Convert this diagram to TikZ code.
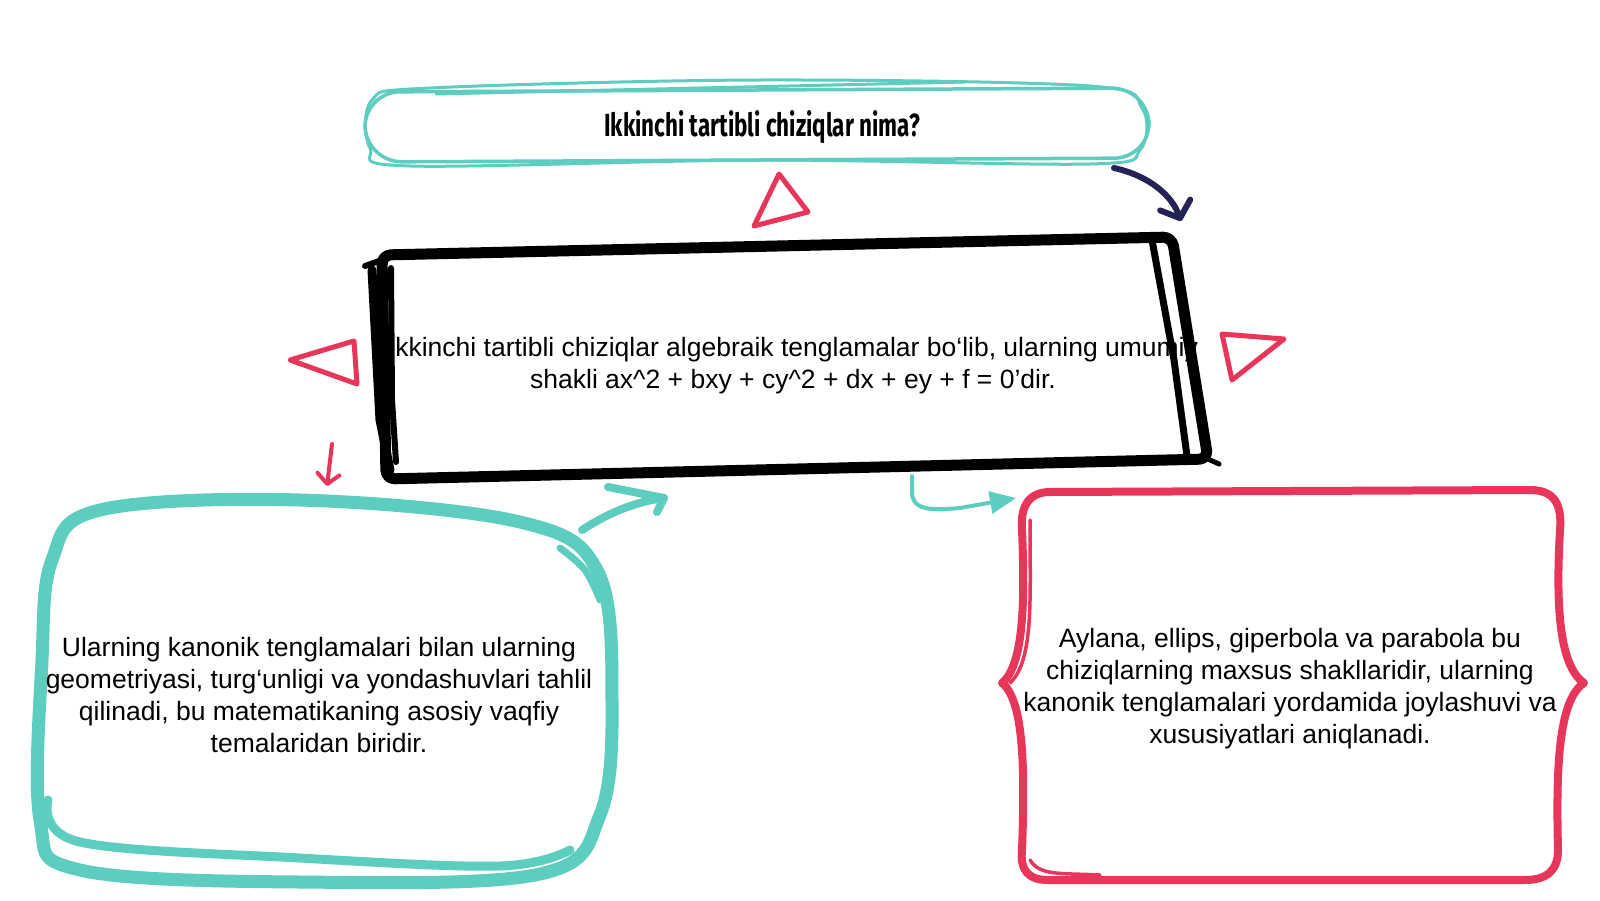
\documentclass[tikz,border=0pt]{standalone}
\usepackage{fontspec}
\usepackage{graphicx}
\setmainfont{Liberation Sans}
\newfontfamily\titlefont{Fira Sans}
\usetikzlibrary{arrows.meta}
\definecolor{tealc}{RGB}{92,205,190}
\definecolor{redc}{RGB}{232,54,90}
\definecolor{navyc}{RGB}{36,36,84}
\begin{document}
\begin{tikzpicture}[x=1pt,y=-1pt,
  bodytext/.style={align=center,inner sep=0pt,font=\fontsize{26.5}{32}\selectfont},
  titletext/.style={inner sep=0pt,font=\titlefont\bfseries\fontsize{32}{36}\selectfont},
  tealline/.style={draw=tealc,line cap=round,line join=round},
  redline/.style={draw=redc,line cap=round,line join=round},
  blackline/.style={draw=black,line cap=round,line join=round},
  tri/.style={draw=redc,line width=5,line join=round,line cap=round},
]
\useasboundingbox[fill=white] (0,0) rectangle (1600,900);

% ---------- top pill ----------
\draw[tealline,line width=3.5,rounded corners=36] (364,92) -- (1148,88) -- (1150,158) -- (366,162) -- cycle;
\draw[tealline,line width=3] plot[smooth cycle,tension=0.55] coordinates {(372,100) (430,88) (760,80) (1090,86) (1142,108) (1140,150) (1090,164) (760,160) (410,166) (370,148)};
\draw[tealline,line width=3] (436,94) -- (965,82);
\node[titletext] (q) at (762,127) {\scalebox{0.7}[1]{Ikkinchi tartibli chiziqlar nima?}};

% ---------- middle text and black box ----------
\node[bodytext] (def) at (793,366) {Ikkinchi tartibli chiziqlar algebraik tenglamalar bo‘lib, ularning umumiy\\shakli ax\textasciicircum{}2 + bxy + cy\textasciicircum{}2 + dx + ey + f = 0’dir.};
\draw[blackline,line width=11,rounded corners=9] (382,255) -- (1172,237) -- (1208,459) -- (386,479) -- cycle;
\draw[blackline,line width=9] (372,270) -- (380,420) -- (390,470);
\draw[blackline,line width=6] (391,268) -- (392,400) -- (396,462);
\draw[blackline,line width=6] (365,266) -- (382,260);
\draw[blackline,line width=7] (1152,240) -- (1174,360) -- (1187,456);
\draw[blackline,line width=5] (1208,459) -- (1219,464);

% ---------- triangles ----------
\draw[tri] (779,174) -- (754,226) -- (808,212) -- cycle;
\draw[tri] (290,360) -- (354,341) -- (357,384) -- cycle;
\draw[tri] (1222,334) -- (1284,339) -- (1232,380) -- cycle;

% ---------- left teal box ----------
\draw[tealline,line width=13] plot[smooth cycle,tension=0.6] coordinates {(52,560) (100,510) (300,500) (520,522) (598,572) (612,700) (600,815) (540,874) (300,882) (80,870) (40,820) (42,660)};
\draw[tealline,line width=9] plot[smooth,tension=0.6] coordinates {(48,800) (80,842) (300,858) (500,866) (570,850)};
\draw[tealline,line width=7] plot[smooth,tension=0.6] coordinates {(560,548) (585,570) (600,600)};
\node[bodytext] (lt) at (319,695) {Ularning kanonik tenglamalari bilan ularning\\geometriyasi, turg‘unligi va yondashuvlari tahlil\\qilinadi, bu matematikaning asosiy vaqfiy\\temalaridan biridir.};

% ---------- right red box ----------
\draw[redline,line width=8] (1050,492) -- (1530,490)
  .. controls (1555,490) and (1562,505) .. (1560,530)
  .. controls (1556,600) and (1558,665) .. (1584,683)
  .. controls (1558,700) and (1556,770) .. (1558,850)
  .. controls (1558,872) and (1545,880) .. (1525,880)
  -- (1048,880)
  .. controls (1028,880) and (1020,870) .. (1022,850)
  .. controls (1025,770) and (1024,700) .. (1002,683)
  .. controls (1024,665) and (1025,600) .. (1022,530)
  .. controls (1020,505) and (1030,492) .. (1050,492) -- cycle;
\draw[redline,line width=3.5] (1030,520) .. controls (1030,600) and (1034,660) .. (1010,683);
\draw[redline,line width=3.5] (1030,860) .. controls (1040,876) and (1060,873) .. (1100,875);
\node[bodytext] (rt) at (1290,689) {Aylana, ellips, giperbola va parabola bu\\chiziqlarning maxsus shakllaridir, ularning\\kanonik tenglamalari yordamida joylashuvi va\\xususiyatlari aniqlanadi.};

% ---------- arrows ----------
\coordinate (na) at (1114,168);
\coordinate (nb) at (1181,221);
\draw[draw=navyc,line width=6,line cap=round,-{Straight Barb[length=14pt,width=32pt,line width=6pt,round]}]
  (na) .. controls (1150,176) and (1172,196) .. (nb);

\coordinate (ra) at (332,444);
\coordinate (rb) at (327,486);
\draw[draw=redc,line width=4,line cap=round,-{Straight Barb[length=10pt,width=22pt,line width=4pt,round]}] (ra) -- (rb);

\coordinate (ta) at (582,530);
\coordinate (tb) at (664,498);
\draw[draw=tealc,line width=8,line cap=round] (ta) .. controls (610,512) and (635,502) .. (tb);
\coordinate (tc) at (608,487);
\coordinate (td) at (657,512);
\draw[draw=tealc,line width=8,line cap=round,line join=round] (tc) -- (tb) -- (td);

\coordinate (sa) at (912,476);
\coordinate (sb) at (1016,498);
\draw[draw=tealc,line width=4,line cap=round,-{Triangle[length=26pt,width=22pt]}]
  (sa) -- (912,492) .. controls (912,512) and (935,510) .. (960,508) -- (sb);
\end{tikzpicture}
\end{document}
